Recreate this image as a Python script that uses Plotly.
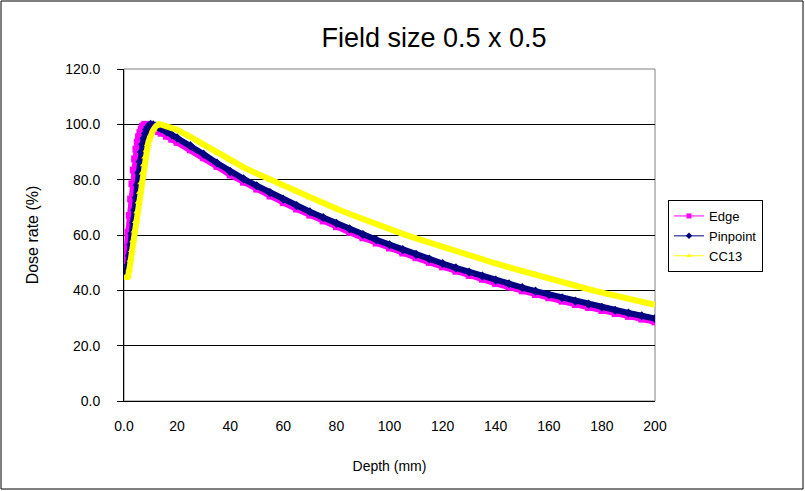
import plotly.graph_objects as go

# ---------------- data ----------------
edge_depth = [0.5, 1, 1.5, 2, 2.5, 3, 3.5, 4, 4.5, 5, 5.5, 6, 6.5, 7, 7.5, 8, 9, 10, 11, 12, 13, 14, 16, 18, 20,
              25, 30, 35, 40, 45, 50, 55, 60, 65, 70, 75, 80, 85, 90, 95, 100, 105, 110, 115, 120, 125, 130,
              135, 140, 145, 150, 155, 160, 165, 170, 175, 180, 185, 190, 195, 200]
edge_dose = [50, 55, 61, 67, 73, 78.5, 83.5, 87.5, 91, 93.5, 95.5, 97, 98.3, 99.2, 99.7, 100, 99.7, 99.2, 98.6, 98.0,
             97.4, 96.8, 95.7, 94.6, 93.5,
             90.8, 87.9, 84.8, 81.7, 79.1, 76.6, 74.1, 71.7, 69.4, 67.2, 65.1, 63.0, 61.0, 59.0, 57.1, 55.3, 53.5,
             51.8, 50.1, 48.5, 46.9, 45.4, 44.0, 42.5, 41.2, 39.8, 38.5, 37.3, 36.1, 34.9, 33.8, 32.7, 31.6, 30.6,
             29.6, 28.6]

pin_depth = [0.5, 1, 1.5, 2, 2.5, 3, 3.5, 4, 4.5, 5, 5.5, 6, 6.5, 7, 7.5, 8, 8.5, 9, 9.5, 10, 11, 12, 13, 14, 16,
             18, 20, 25, 30, 35, 40, 45, 50, 55, 60, 65, 70, 75, 80, 85, 90, 95, 100, 105, 110, 115, 120, 125,
             130, 135, 140, 145, 150, 155, 160, 165, 170, 175, 180, 185, 190, 195, 200]
pin_dose = [47, 47.5, 49, 52.5, 56.5, 60.5, 64.5, 69, 73.5, 78, 82.5, 86.5, 90, 92.8, 95, 96.7, 98, 99, 99.6, 100,
            99.8, 99.4, 98.9, 98.4, 97.3, 96.2, 95.1, 92.3, 89.2, 86.0, 82.9, 80.3, 77.8, 75.3, 72.9, 70.6, 68.4,
            66.3, 64.2, 62.2, 60.2, 58.3, 56.5, 54.7, 53.0, 51.3, 49.7, 48.1, 46.6, 45.2, 43.7, 42.4, 41.0, 39.7,
            38.5, 37.3, 36.1, 35.0, 33.9, 32.8, 31.8, 30.8, 29.8]

cc13_depth = [0.5, 1, 1.5, 2, 2.5, 3, 3.5, 4, 4.5, 5, 5.5, 6, 6.5, 7, 7.5, 8, 8.5, 9, 9.5, 10, 11, 12, 13, 14, 16,
              18, 20, 25, 30, 35, 40, 45, 50, 55, 60, 65, 70, 75, 80, 85, 90, 95, 100, 105, 110, 115, 120, 125,
              130, 135, 140, 145, 150, 155, 160, 165, 170, 175, 180, 185, 190, 195, 200]
cc13_dose = [44.5, 44.5, 45, 47.5, 51, 54.5, 58, 61.5, 65, 68.5, 72, 75.5, 79, 82.5, 85.5, 88.3, 90.7, 92.8, 94.5,
             96, 98, 99.3, 100, 99.9, 99.4, 98.8, 98.0, 95.5, 92.6, 89.7, 87.0, 84.5, 82.2, 80.0, 77.8, 75.6, 73.5,
             71.5, 69.5, 67.6, 65.7, 63.9, 62.1, 60.4, 58.8, 57.2, 55.6, 54.1, 52.6, 51.1, 49.7, 48.3, 46.9, 45.6,
             44.2, 42.9, 41.6, 40.4, 39.2, 38.0, 36.9, 35.8, 34.8]

x_tickvals = [0, 20, 40, 60, 80, 100, 120, 140, 160, 180, 200]
x_ticktext = ["0.0", "20", "40", "60", "80", "100", "120", "140", "160", "180", "200"]
y_tickvals = [0, 20, 40, 60, 80, 100, 120]
y_ticktext = ["0.0", "20.0", "40.0", "60.0", "80.0", "100.0", "120.0"]

series = [
    ("Edge", edge_depth, edge_dose, "#FF00FF", "square"),
    ("Pinpoint", pin_depth, pin_dose, "#000080", "diamond"),
    ("CC13", cc13_depth, cc13_dose, "#FFFF00", "triangle-up"),
]

FONT = "Liberation Sans, Arial, sans-serif"

fig = go.Figure()
for name, xs, ys, col, sym in series:
    fig.add_trace(go.Scatter(
        x=xs, y=ys, mode="lines+markers", name=name, showlegend=False,
        line=dict(color=col, width=6),
        marker=dict(color=col, symbol=sym, size=7, line=dict(width=0)),
    ))
for name, xs, ys, col, sym in series:
    fig.add_trace(go.Scatter(
        x=[None], y=[None], mode="lines+markers", name=name, showlegend=True,
        line=dict(color=col, width=1),
        marker=dict(color=col, symbol=sym, size=5, line=dict(width=0)),
    ))

W, H = 805, 491
L, R, T, B = 124, 150, 69, 90
pw, ph = W - L - R, H - T - B

def px_x(p):
    return (p - L) / pw

def px_y(p):
    return (H - B - p) / ph

shapes = [
    # outer chart border
    dict(type="rect", xref="paper", yref="paper",
         x0=px_x(1), x1=px_x(803), y0=px_y(489), y1=px_y(1),
         line=dict(color="black", width=1), layer="below"),
    # plot area border (grey)
    dict(type="rect", xref="paper", yref="paper", x0=0, x1=1, y0=0, y1=1,
         line=dict(color="#808080", width=1), layer="below"),
]

fig.update_layout(
    width=W, height=H,
    margin=dict(l=L, r=R, t=T, b=B, pad=0),
    paper_bgcolor="white", plot_bgcolor="white",
    font=dict(family=FONT, color="black", size=13),
    title=dict(text="Field size 0.5 x 0.5", x=434 / W, xanchor="center",
               y=1 - 38 / H, yanchor="middle",
               font=dict(family=FONT, size=27, color="black")),
    xaxis=dict(range=[0, 200], tickvals=x_tickvals, ticktext=x_ticktext,
               showgrid=False, zeroline=False, showline=True, linecolor="black", linewidth=1,
               ticks="", tickfont=dict(size=14), ticklabelstandoff=12,
               title=dict(text="Depth (mm)", font=dict(size=14), standoff=28)),
    yaxis=dict(range=[0, 120], tickvals=y_tickvals, ticktext=y_ticktext,
               showgrid=True, gridcolor="black", gridwidth=1, zeroline=False,
               showline=True, linecolor="black", linewidth=1,
               ticks="outside", ticklen=6, tickcolor="black", tickfont=dict(size=14),
               ticklabelstandoff=14,
               title=dict(text="Dose rate (%)", font=dict(size=16), standoff=22)),
    legend=dict(x=px_x(668), y=px_y(200), xanchor="left", yanchor="top",
                bordercolor="black", borderwidth=1, bgcolor="white",
                font=dict(size=13), itemwidth=30, tracegroupgap=0),
    shapes=shapes,
)

fig.write_html("out.html", config={"displayModeBar": False},
               post_script="document.body.style.margin='0';")
